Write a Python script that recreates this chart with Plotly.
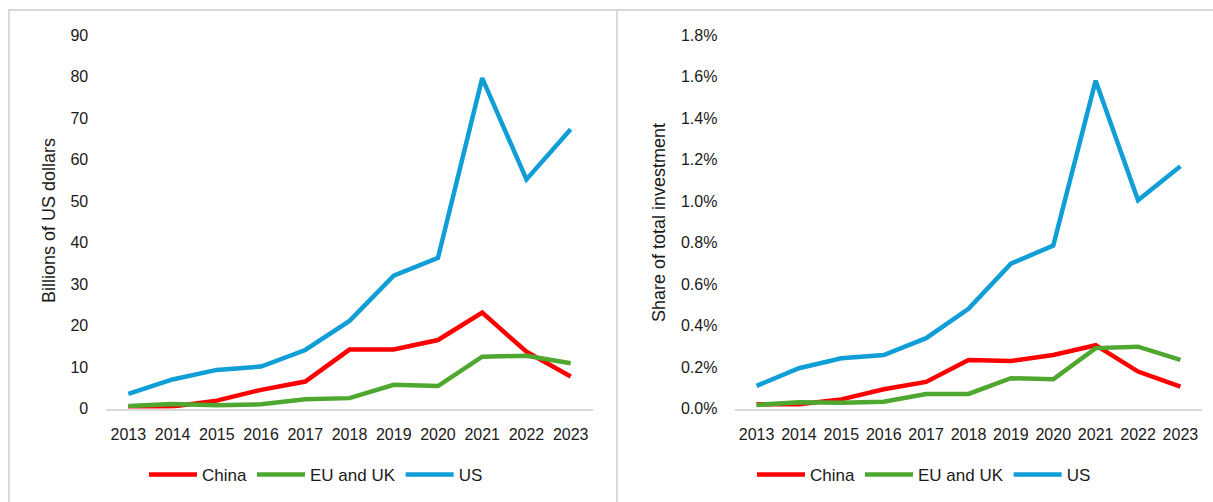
import plotly.graph_objects as go

# Years on the horizontal axis
years = [2013, 2014, 2015, 2016, 2017, 2018, 2019, 2020, 2021, 2022, 2023]

# Private AI investment, billions of US dollars
china_usd = [0.3, 0.5, 1.9, 4.5, 6.5, 14.2, 14.2, 16.5, 23.1, 13.7, 7.7]
eu_uk_usd = [0.6, 1.1, 0.8, 1.0, 2.2, 2.5, 5.7, 5.4, 12.5, 12.7, 10.9]
us_usd = [3.5, 7.0, 9.3, 10.1, 14.1, 21.1, 32.0, 36.3, 79.6, 55.2, 67.3]

# Share of total investment (fractions)
china_share = [0.0002, 0.0002, 0.00044, 0.00093, 0.00128, 0.00234, 0.00229, 0.00258, 0.00305, 0.00178, 0.00105]
eu_uk_share = [0.00017, 0.0003, 0.00028, 0.00033, 0.0007, 0.0007, 0.00146, 0.00141, 0.00291, 0.00298, 0.00234]
us_share = [0.00109, 0.00194, 0.00242, 0.00258, 0.00339, 0.00480, 0.00698, 0.00785, 0.01580, 0.01004, 0.01168]

series_names = ["China", "EU and UK", "US"]
colors = ["#FF0000", "#4EA72E", "#0F9ED5"]

W, H = 1213, 502
FONT = "Liberation Sans, Arial, sans-serif"
TEXT = "#1a1a1a"
GRID = "#d9d9d9"


def px_x(v):
    return v / W


def px_y(v):
    return (H - v) / H


fig = go.Figure()

for name, vals, col in zip(series_names, [china_usd, eu_uk_usd, us_usd], colors):
    fig.add_trace(go.Scatter(
        x=years, y=vals, name=name, mode="lines",
        line=dict(color=col, width=4.5),
        xaxis="x", yaxis="y", legend="legend",
    ))

for name, vals, col in zip(series_names, [china_share, eu_uk_share, us_share], colors):
    fig.add_trace(go.Scatter(
        x=years, y=vals, name=name, mode="lines",
        line=dict(color=col, width=4.5),
        xaxis="x2", yaxis="y2", legend="legend2",
    ))

xcommon = dict(
    range=[2012.5, 2023.5], tickmode="linear", tick0=2013, dtick=1,
    showgrid=False, zeroline=False, showline=True, linecolor=GRID, linewidth=2,
    ticks="", tickfont=dict(family=FONT, size=16, color=TEXT),
    ticklabelstandoff=10, fixedrange=True, automargin=False,
)
ycommon = dict(
    showgrid=False, zeroline=False, showline=False, ticks="",
    tickfont=dict(family=FONT, size=16, color=TEXT),
    ticklabelstandoff=17, fixedrange=True, automargin=False,
)

ydom = [px_y(408.5), px_y(35)]
legend_style = dict(
    orientation="h", xanchor="center", yanchor="middle", y=px_y(475),
    font=dict(family=FONT, size=17, color=TEXT), bgcolor="rgba(0,0,0,0)",
    itemwidth=48, tracegroupgap=0,
)

fig.update_layout(
    width=W, height=H,
    margin=dict(l=0, r=0, t=0, b=0, autoexpand=False),
    paper_bgcolor="white", plot_bgcolor="white",
    font=dict(family=FONT, size=16, color=TEXT),
    xaxis=dict(domain=[px_x(106.2), px_x(592.8)], anchor="y", **xcommon),
    yaxis=dict(domain=ydom, anchor="x", range=[0, 90], dtick=10, **ycommon),
    xaxis2=dict(domain=[px_x(735.4), px_x(1201.6)], anchor="y2", **xcommon),
    yaxis2=dict(domain=ydom, anchor="x2", range=[0, 0.018], dtick=0.002,
                tickformat=".1%", **ycommon),
    legend=dict(x=px_x(316), **legend_style),
    legend2=dict(x=px_x(924), **legend_style),
    showlegend=True,
)

# Panel frames
fig.add_shape(type="rect", xref="paper", yref="paper",
              x0=px_x(9), x1=px_x(617), y0=px_y(520), y1=px_y(10),
              line=dict(color=GRID, width=2), fillcolor="rgba(0,0,0,0)", layer="below")
fig.add_shape(type="rect", xref="paper", yref="paper",
              x0=px_x(617), x1=px_x(1230), y0=px_y(520), y1=px_y(10),
              line=dict(color=GRID, width=2), fillcolor="rgba(0,0,0,0)", layer="below")

# Axis titles
fig.add_annotation(text="Billions of US dollars", xref="paper", yref="paper",
                   x=px_x(49), y=px_y(221), textangle=-90, showarrow=False,
                   xanchor="center", yanchor="middle",
                   font=dict(family=FONT, size=18, color=TEXT))
fig.add_annotation(text="Share of total investment", xref="paper", yref="paper",
                   x=px_x(659), y=px_y(223), textangle=-90, showarrow=False,
                   xanchor="center", yanchor="middle",
                   font=dict(family=FONT, size=18, color=TEXT))

fig.write_html("out.html", config=dict(displayModeBar=False))
